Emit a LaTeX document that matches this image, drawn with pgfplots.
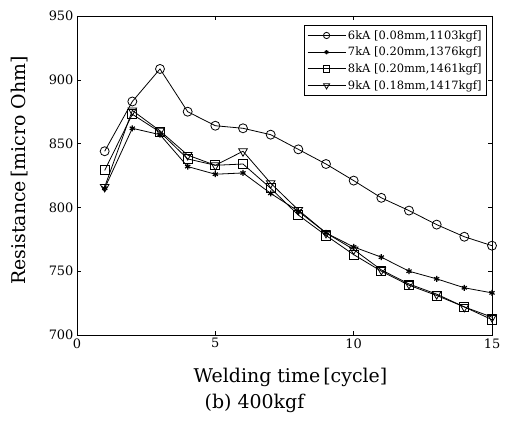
\documentclass[border=0pt]{standalone}
\usepackage{fontspec}
\setmainfont{DejaVu Serif}
\usepackage{pgfplots}
\pgfplotsset{compat=1.18}
\begin{document}
\begin{tikzpicture}
\begin{axis}[
  name=ax,
  scale only axis,
  width=415bp, height=319bp,
  xmin=0, xmax=15, ymin=700, ymax=950,
  xtick={0,5,10,15}, ytick={700,750,800,850,900,950},
  xticklabels={0,5,10,15}, yticklabels={700,750,800,850,900,950},
  tick align=inside, major tick length=4bp,
  tick style={black, line width=0.6pt},
  axis line style={line width=0.8pt},
  ticklabel style={font=\fontsize{13}{15}\selectfont},
  xlabel={Welding time\,[cycle]},
  label style={font=\fontsize{19}{22}\selectfont},
  xlabel style={at={(axis description cs:0.5,0)}, anchor=center, yshift=-42bp, xshift=6bp},
  legend style={at={(rel axis cs:1,1)}, anchor=north east, xshift=-5bp, yshift=-9bp,
    font=\fontsize{11.5}{13}\selectfont, draw=black, line width=0.8pt,
    row sep=2.5pt, inner sep=3pt, cells={anchor=west}},
  legend image code/.code={\draw[mark repeat=2,mark phase=2, every mark/.append style={scale=0.7}] plot coordinates {(0bp,0bp) (19bp,0bp) (38bp,0bp)};},
  every axis plot/.append style={black, line width=0.8pt},
]
\addplot[mark=o, mark size=4.5bp] coordinates {
(1,844) (2,883) (3,908.5) (4,875) (5,864) (6,862) (7,857) (8,845.5) (9,834) (10,821) (11,807.5) (12,797.5) (13,786.5) (14,777) (15,770)};
\addplot[mark=asterisk, mark size=3bp, mark options={line width=1.2pt}] coordinates {
(1,815) (2,862) (3,857) (4,832) (5,826) (6,827) (7,811) (8,797) (9,780) (10,769) (11,761) (12,750) (13,744) (14,737) (15,733)};
\addplot[mark=square, mark size=4.5bp] coordinates {
(1,829) (2,873) (3,859) (4,838) (5,833) (6,834) (7,815) (8,794) (9,778) (10,763) (11,750) (12,739) (13,731) (14,722) (15,712)};
\addplot[mark=triangle, mark size=5bp, mark options={rotate=180}] coordinates {
(1,816) (2,876) (3,860) (4,841) (5,833) (6,844) (7,819) (8,798) (9,780) (10,767) (11,751) (12,740) (13,732) (14,722) (15,714)};
\legend{{6kA [0.08mm,1103kgf]},{7kA [0.20mm,1376kgf]},{8kA [0.20mm,1461kgf]},{9kA [0.18mm,1417kgf]}}
\end{axis}
\node[font=\fontsize{19}{22}\selectfont, rotate=90, anchor=center] at ([xshift=-57bp, yshift=5bp]ax.west) {Resistance\,[micro Ohm]};
\node[font=\fontsize{19}{22}\selectfont, anchor=center] at ([xshift=-30bp, yshift=-68bp]ax.south) {(b)\ 400kgf};
\path ([shift={(-77bp,-88bp)}]ax.south west) rectangle ++(505bp,423bp);
\end{tikzpicture}
\end{document}
